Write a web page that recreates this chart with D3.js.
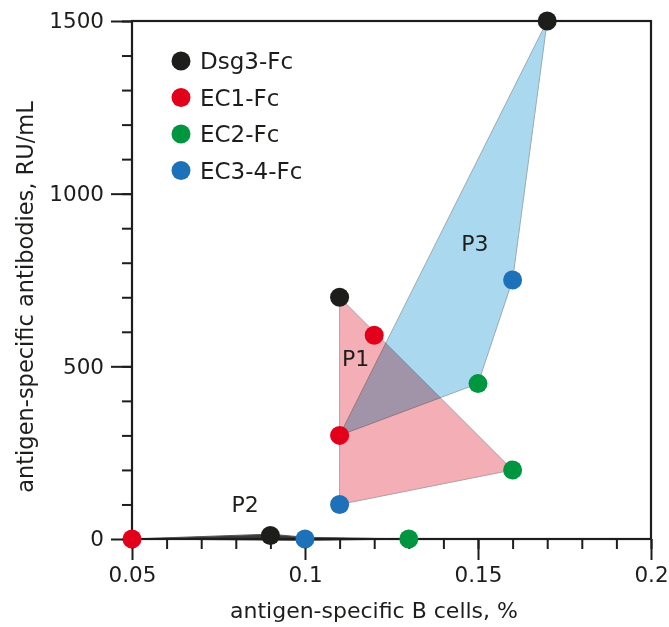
<!DOCTYPE html>
<html>
<head>
<meta charset="utf-8">
<script src="https://cdn.jsdelivr.net/npm/d3@7"></script>
<style>
  body { margin: 0; background: #fff; }
  svg { display: block; font-family: "DejaVu Sans", sans-serif; }
</style>
</head>
<body>
<div id="chart"></div>
<script>
// antigen-specific B cells (%) vs antibodies (RU/mL)
const seriesNames = ['Dsg3-Fc', 'EC1-Fc', 'EC2-Fc', 'EC3-4-Fc'];
const seriesColors = ['#1d1d1b', '#e3001b', '#009640', '#1d71b8'];

const dsg3 = [[0.09, 10], [0.11, 700], [0.17, 1500]];
const ec1 = [[0.05, 0], [0.12, 590], [0.11, 300]];
const ec2 = [[0.13, 0], [0.16, 200], [0.15, 450]];
const ec34 = [[0.10, 0], [0.11, 100], [0.16, 750]];
const seriesValues = [dsg3, ec1, ec2, ec34];

// groups drawn as shaded polygons
const p1 = [[0.11, 700], [0.16, 200], [0.11, 100]];
const p3 = [[0.17, 1500], [0.16, 750], [0.15, 450], [0.11, 300]];
const p2 = [[0.05, 0], [0.09, 14], [0.10, 5], [0.13, 0], [0.10, -4]];

const groupLabels = ['P1', 'P2', 'P3'];
const groupLabelPos = [[0.1146, 501], [0.0827, 78], [0.1491, 834]];

const xTicks = [0.05, 0.1, 0.15, 0.2];
const xTickLabels = ['0.05', '0.1', '0.15', '0.2'];
const yTicks = [0, 500, 1000, 1500];

const width = 669, height = 627;
const margin = { top: 21, right: 18, bottom: 88, left: 132 };

const svg = d3.select('#chart').append('svg')
    .attr('width', width)
    .attr('height', height);

const x = d3.scaleLinear().domain([0.05, 0.2]).range([margin.left, width - margin.right]);
const y = d3.scaleLinear().domain([0, 1500]).range([height - margin.bottom, margin.top]);

const line = d3.line().x(d => x(d[0])).y(d => y(d[1])).curve(d3.curveLinearClosed);

// polygons
svg.append('path').attr('d', line(p1))
    .attr('fill', '#f3afb5').attr('stroke', '#b0a0a4').attr('stroke-width', 1);
svg.append('path').attr('d', line(p3))
    .attr('fill', '#a9d8ef').attr('stroke', '#9aaab4').attr('stroke-width', 1)
    .style('mix-blend-mode', 'multiply');
svg.append('path').attr('d', line(p2))
    .attr('fill', '#3a3a3a').attr('stroke', '#555').attr('stroke-width', 1);

// axes
const ink = '#1d1d1b';
const xMinor = d3.range(0.05, 0.2001, 0.01);
const xAxis = svg.append('g').attr('transform', `translate(0,${y(0)})`);
xAxis.append('g')
    .call(d3.axisBottom(x).tickValues(xMinor).tickSize(10).tickFormat(''))
    .call(g => g.select('.domain').remove());
xAxis.append('g')
    .call(d3.axisBottom(x).tickValues(xTicks).tickSize(21).tickPadding(7)
        .tickFormat((d, i) => xTickLabels[i]))
    .call(g => g.select('.domain').remove())
    .call(g => g.selectAll('text').attr('font-size', 21.5).attr('font-family', 'DejaVu Sans').attr('fill', ink));
xAxis.selectAll('line').attr('stroke', ink).attr('stroke-width', 2);

const yMinor = d3.range(0, 1501, 100);
const yAxis = svg.append('g').attr('transform', `translate(${x(0.05)},0)`);
yAxis.append('g')
    .call(d3.axisLeft(y).tickValues(yMinor).tickSize(10).tickFormat(''))
    .call(g => g.select('.domain').remove());
yAxis.append('g')
    .call(d3.axisLeft(y).tickValues(yTicks).tickSize(21).tickPadding(7).tickFormat(d3.format('d')))
    .call(g => g.select('.domain').remove())
    .call(g => g.selectAll('text').attr('font-size', 21.5).attr('font-family', 'DejaVu Sans').attr('fill', ink));
yAxis.selectAll('line').attr('stroke', ink).attr('stroke-width', 2);

// frame
svg.append('rect')
    .attr('x', x(0.05)).attr('y', y(1500))
    .attr('width', x(0.2) - x(0.05)).attr('height', y(0) - y(1500))
    .attr('fill', 'none').attr('stroke', ink).attr('stroke-width', 2.2);

// points
seriesValues.forEach((vals, i) => {
    svg.append('g').selectAll('circle')
        .data(vals)
        .join('circle')
        .attr('cx', d => x(d[0]))
        .attr('cy', d => y(d[1]))
        .attr('r', 9.5)
        .attr('fill', seriesColors[i]);
});

// group labels
svg.append('g').selectAll('text')
    .data(groupLabels)
    .join('text')
    .attr('x', (d, i) => x(groupLabelPos[i][0]))
    .attr('y', (d, i) => y(groupLabelPos[i][1]))
    .attr('text-anchor', 'middle')
    .attr('font-size', 22)
    .attr('fill', ink)
    .text(d => d);

// legend
const legend = svg.append('g').attr('transform', 'translate(181,61)');
const item = legend.selectAll('g')
    .data(seriesNames)
    .join('g')
    .attr('transform', (d, i) => `translate(0,${i * 36.5})`);
item.append('circle').attr('r', 9.5).attr('fill', (d, i) => seriesColors[i]);
item.append('text').attr('x', 19).attr('dy', '0.36em')
    .attr('font-size', 23).attr('fill', ink).text(d => d);

// axis titles
svg.append('text')
    .attr('x', 374).attr('y', 618)
    .attr('text-anchor', 'middle')
    .attr('font-size', 22).attr('fill', ink)
    .text('antigen-specific B cells, %');
svg.append('text')
    .attr('transform', 'translate(33,297) rotate(-90)')
    .attr('text-anchor', 'middle')
    .attr('font-size', 22.5).attr('fill', ink)
    .text('antigen-specific antibodies, RU/mL');
</script>
</body>
</html>
